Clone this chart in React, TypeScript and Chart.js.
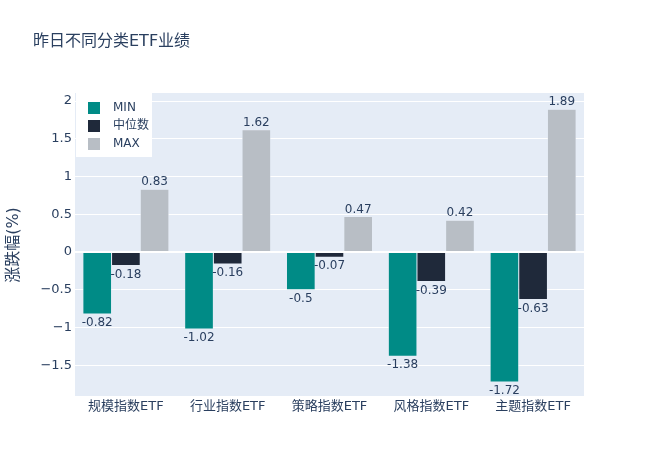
import React, { useEffect, useRef } from 'react';
import { Chart, registerables } from 'chart.js';

Chart.register(...registerables);

const categories = ['规模指数ETF', '行业指数ETF', '策略指数ETF', '风格指数ETF', '主题指数ETF'];
const minValues = [-0.82, -1.02, -0.5, -1.38, -1.72];
const medianValues = [-0.18, -0.16, -0.07, -0.39, -0.63];
const maxValues = [0.83, 1.62, 0.47, 0.42, 1.89];
const seriesNames = ['MIN', '中位数', 'MAX'];
const seriesColors = ['#008b86', '#1f293a', '#b8bec5'];
const yTicks = [-1.5, -1, -0.5, 0, 0.5, 1, 1.5, 2];
const yMin = -1.907;
const yMax = 2.106;
const titleText = '昨日不同分类ETF业绩';
const yAxisTitle = '涨跌幅(%)';

const FONT = '"DejaVu Sans", "Noto Sans CJK SC", sans-serif';
const TEXT = '#2a3f5f';

const bgPlugin = {
  id: 'plotBg',
  beforeDraw(chart: any) {
    const { ctx, chartArea } = chart;
    ctx.save();
    ctx.fillStyle = '#E5ECF6';
    ctx.fillRect(chartArea.left, chartArea.top, chartArea.right - chartArea.left, chartArea.bottom - chartArea.top);
    ctx.restore();
  },
};

const overlayPlugin = {
  id: 'overlay',
  afterDatasetsDraw(chart: any) {
    const { ctx } = chart;
    ctx.save();
    ctx.font = `12px ${FONT}`;
    ctx.fillStyle = TEXT;
    ctx.textAlign = 'center';
    chart.data.datasets.forEach((ds: any, di: number) => {
      const meta = chart.getDatasetMeta(di);
      meta.data.forEach((bar: any, i: number) => {
        const v = ds.data[i];
        const label = String(v);
        if (v >= 0) {
          ctx.textBaseline = 'alphabetic';
          ctx.fillText(label, bar.x, bar.y - 4);
        } else {
          ctx.textBaseline = 'top';
          ctx.fillText(label, bar.x, bar.y + 3);
        }
      });
    });
    ctx.restore();
  },
  afterDraw(chart: any) {
    const { ctx } = chart;
    ctx.save();
    // title
    ctx.fillStyle = TEXT;
    ctx.font = `16px ${FONT}`;
    ctx.textAlign = 'left';
    ctx.textBaseline = 'middle';
    ctx.fillText(titleText, 33, 42);
    // y axis title
    ctx.save();
    ctx.translate(14, 245);
    ctx.rotate(-Math.PI / 2);
    ctx.textAlign = 'center';
    ctx.textBaseline = 'middle';
    ctx.font = `16px ${FONT}`;
    ctx.fillText(yAxisTitle, 0, 0);
    ctx.restore();
    // legend
    ctx.fillStyle = '#ffffff';
    ctx.fillRect(76, 93, 76, 64);
    ctx.font = `12px ${FONT}`;
    ctx.textBaseline = 'middle';
    seriesNames.forEach((name, i) => {
      const cy = 108 + i * 18;
      ctx.fillStyle = seriesColors[i];
      ctx.fillRect(88, cy - 6, 12, 12);
      ctx.fillStyle = TEXT;
      ctx.fillText(name, 113, cy);
    });
    ctx.restore();
  },
};

export default function App() {
  const ref = useRef<HTMLCanvasElement | null>(null);
  useEffect(() => {
    if (!ref.current) return;
    const chart = new Chart(ref.current, {
      type: 'bar',
      data: {
        labels: categories,
        datasets: [minValues, medianValues, maxValues].map((d, i) => ({
          label: seriesNames[i],
          data: d,
          backgroundColor: seriesColors[i],
          borderColor: '#E5ECF6',
          borderWidth: 0.5,
          categoryPercentage: 0.845,
          barPercentage: 1.0,
        })),
      },
      options: {
        animation: false,
        responsive: true,
        maintainAspectRatio: false,
        layout: { padding: { top: 93, right: 76, left: 0, bottom: 0 } },
        plugins: {
          legend: { display: false },
          title: { display: false },
          tooltip: { enabled: false },
        },
        scales: {
          x: {
            grid: { display: false, drawTicks: false },
            border: { display: false },
            ticks: { color: TEXT, font: { size: 13, family: FONT }, padding: 3, maxRotation: 0 },
            afterFit(scale: any) {
              scale.height = 76;
            },
          },
          y: {
            min: yMin,
            max: yMax,
            border: { display: false },
            grid: {
              color: '#ffffff',
              lineWidth: (c: any) => (c.tick && c.tick.value === 0 ? 2 : 1),
              drawTicks: false,
            },
            ticks: {
              color: TEXT,
              font: { size: 13, family: FONT },
              padding: 3,
              callback: (v: any) => (v < 0 ? '\u2212' + Math.abs(v) : String(v)),
            },
            afterBuildTicks(scale: any) {
              scale.ticks = yTicks.map((v) => ({ value: v }));
            },
            afterFit(scale: any) {
              scale.width = 75;
            },
          },
        },
      },
      plugins: [bgPlugin, overlayPlugin],
    });
    return () => chart.destroy();
  }, []);
  return (
    <div style={{ position: 'absolute', left: 0, top: 0, width: 660, height: 472, background: '#fff' }}>
      <canvas ref={ref} />
    </div>
  );
}
